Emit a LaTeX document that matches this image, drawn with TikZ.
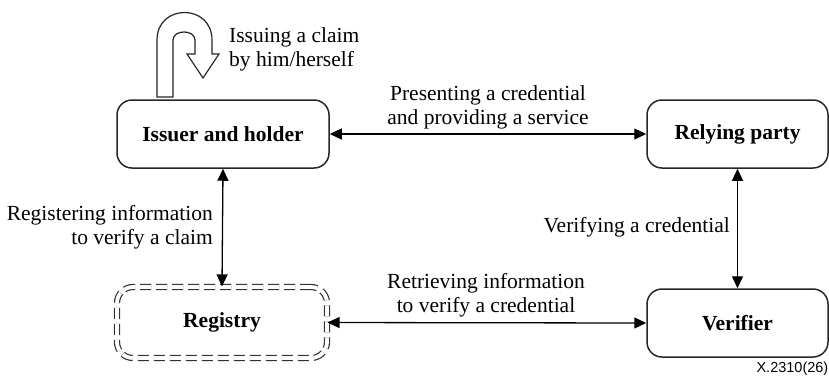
\documentclass[tikz,border=0pt]{standalone}
\usepackage{fontspec}
\setmainfont{Liberation Serif}
\newfontfamily\labelsans{Liberation Sans}
\usetikzlibrary{arrows.meta}

\tikzset{
  entity/.style={draw=black!85, line width=1.5pt, rounded corners=15pt,
    font=\bfseries\fontsize{21.5}{24}\selectfont, inner sep=0pt},
  registrybox/.style={draw=black!80, line width=1.2pt, rounded corners=16pt,
    double=white, double distance=3.8pt, dash pattern=on 11pt off 5pt,
    font=\bfseries\fontsize{21.5}{24}\selectfont, inner sep=0pt},
  flow/.style={line width=1.3pt, {Triangle[length=12pt,width=11pt]}-{Triangle[length=12pt,width=11pt]}},
  caption/.style={font=\fontsize{21.5}{24}\selectfont, inner sep=0pt},
}

\begin{document}
\begin{tikzpicture}[x=1pt,y=-1pt]
  \useasboundingbox (0,0) rectangle (829,376);

  % parties
  \node[entity, minimum width=212pt, minimum height=68pt] (issuer) at (223,134) {Issuer and holder};
  \node[entity, minimum width=181pt, minimum height=68pt] (relying) at (737.5,134) {Relying party};
  \node[entity, minimum width=181pt, minimum height=68pt] (verifier) at (737.5,323) {Verifier};
  \node[registrybox, minimum width=210pt, minimum height=71pt] (registry) at (222,322.5) {Registry};

  % self-issuing U-turn arrow
  \draw[line width=1.2pt, draw=black!85, fill=white, line join=miter]
    (157,97) -- (157,40) .. controls (157,3.3) and (212,3.3) .. (212,40)
    -- (212,54) -- (219,54) -- (203,78) -- (187,54) -- (195,54) -- (195,40)
    .. controls (195,29.3) and (173,29.3) .. (173,40) -- (173,97) -- cycle;
  \node[caption, anchor=north west, align=left] (selfclaim) at (229,27) {Issuing a claim\\by him/herself};

  % interactions
  \draw[flow] (issuer.east) -- (relying.west);
  \node[caption, align=center] (present) at (488,107) {Presenting a credential\\and providing a service};

  \draw[flow] (issuer.south) -- (registry.north);
  \node[caption, anchor=east, align=right] (register) at (213,227.5) {Registering information\\to verify a claim};

  \draw[flow] (relying.south) -- (verifier.north);
  \node[caption, anchor=east] (verify) at (730,227) {Verifying a credential};

  \draw[flow] (registry.east) -- (verifier.west);
  \node[caption, align=center] (retrieve) at (486,295) {Retrieving information\\to verify a credential};

  % figure reference
  \node[font=\labelsans\fontsize{14.5}{16}\selectfont, anchor=east, inner sep=0pt] (figref) at (828.5,369) {X.2310(26)};
\end{tikzpicture}
\end{document}
